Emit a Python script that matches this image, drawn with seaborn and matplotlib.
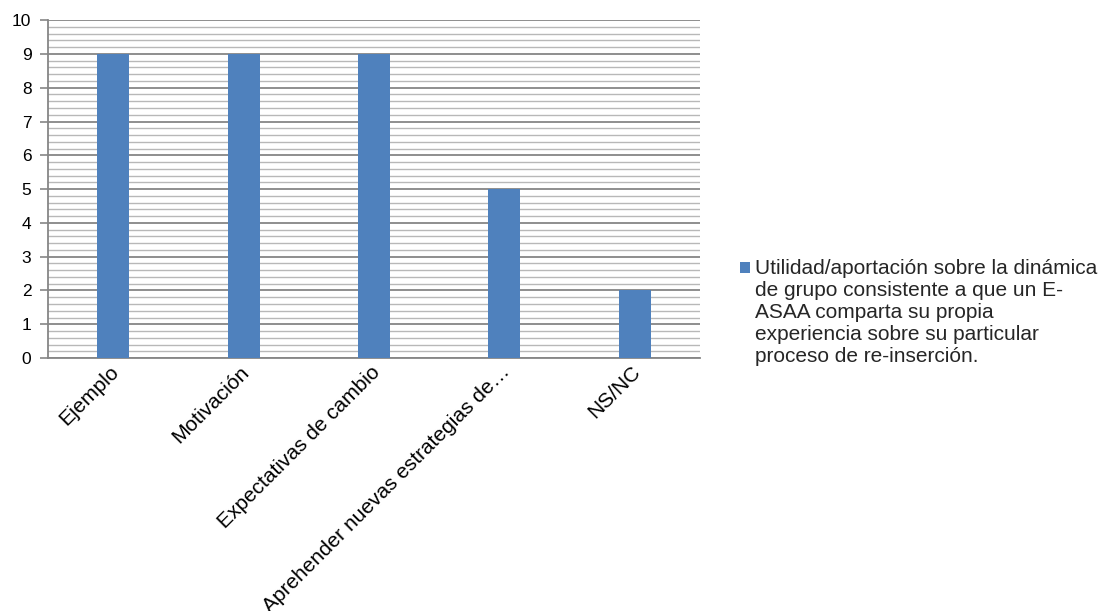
import matplotlib
matplotlib.use("Agg")
import matplotlib.pyplot as plt
from matplotlib.ticker import MultipleLocator
from matplotlib.patches import Patch, Rectangle
from matplotlib.legend_handler import HandlerPatch
from matplotlib.transforms import ScaledTranslation
import seaborn as sns
import pandas as pd

categories = ["Ejemplo", "Motivación", "Expectativas de cambio",
              "Aprehender nuevas estrategias de…", "NS/NC"]
values = [9, 9, 9, 5, 2]
series_name = ("Utilidad/aportación sobre la dinámica\n"
               "de grupo consistente a que un E-\n"
               "ASAA comparta su propia\n"
               "experiencia sobre su particular\n"
               "proceso de re-inserción.")
y_ticks = list(range(0, 11))

sns.set_theme(style="white")
plt.rcParams["font.family"] = ["Liberation Sans", "DejaVu Sans"]

bar_color = "#4F81BD"
major_grid = "#868686"
minor_grid = "#B8B8B8"


class TopAlignedSquare(HandlerPatch):
    """Legend key drawn beside the first line of a multi-line label."""

    def __init__(self, lift, **kw):
        super().__init__(**kw)
        self.lift = lift

    def create_artists(self, legend, orig_handle, xdescent, ydescent,
                       width, height, fontsize, trans):
        side = min(width, height)
        p = Rectangle((-xdescent, -ydescent + self.lift), side, side,
                      facecolor=orig_handle.get_facecolor(),
                      edgecolor="none", transform=trans)
        return [p]


df = pd.DataFrame({"cat": categories, "val": values})

fig = plt.figure(figsize=(11.07, 6.11), dpi=100)
ax = fig.add_axes([0.0434, 0.414, 0.589, 0.553])

sns.barplot(data=df, x="cat", y="val", color=bar_color, width=0.245,
            saturation=1, ax=ax, zorder=3, edgecolor="none", linewidth=0)

ax.set_ylim(0, 10)
ax.set_xlim(-0.5, len(categories) - 0.5)
ax.set_yticks(y_ticks)
ax.yaxis.set_minor_locator(MultipleLocator(0.2))
ax.grid(which="major", axis="y", color=major_grid, linewidth=1.3, zorder=0)
ax.grid(which="minor", axis="y", color=minor_grid, linewidth=1.0, zorder=0)
ax.set_axisbelow(True)

for side in ["top", "right"]:
    ax.spines[side].set_visible(False)
for side in ["left", "bottom"]:
    ax.spines[side].set_color(major_grid)
    ax.spines[side].set_linewidth(1.3)

ax.tick_params(axis="y", which="major", left=True, length=6, width=1.2,
               color=major_grid, labelsize=12.5, labelcolor="black", pad=6)
ax.tick_params(axis="y", which="minor", left=False)
ax.tick_params(axis="x", bottom=False, labelsize=15, labelcolor="black", pad=0)

ax.set_xlabel("")
ax.set_ylabel("")
shift = ScaledTranslation(-4 / 100, 4 / 100, fig.dpi_scale_trans)
for lab in ax.get_xticklabels():
    lab.set_rotation(45)
    lab.set_ha("right")
    lab.set_rotation_mode("anchor")
    lab.set_transform(lab.get_transform() + shift)

handle = Patch(facecolor=bar_color, edgecolor="none")
leg = ax.legend([handle], [series_name], loc="upper left",
                bbox_to_anchor=(1.048, 0.318), frameon=False, fontsize=15,
                handlelength=0.5, handleheight=0.5, handletextpad=0.25,
                borderaxespad=0,
                handler_map={Patch: TopAlignedSquare(lift=33)})
for t in leg.get_texts():
    t.set_linespacing(1.2)

fig.savefig("out.png", dpi=100)
